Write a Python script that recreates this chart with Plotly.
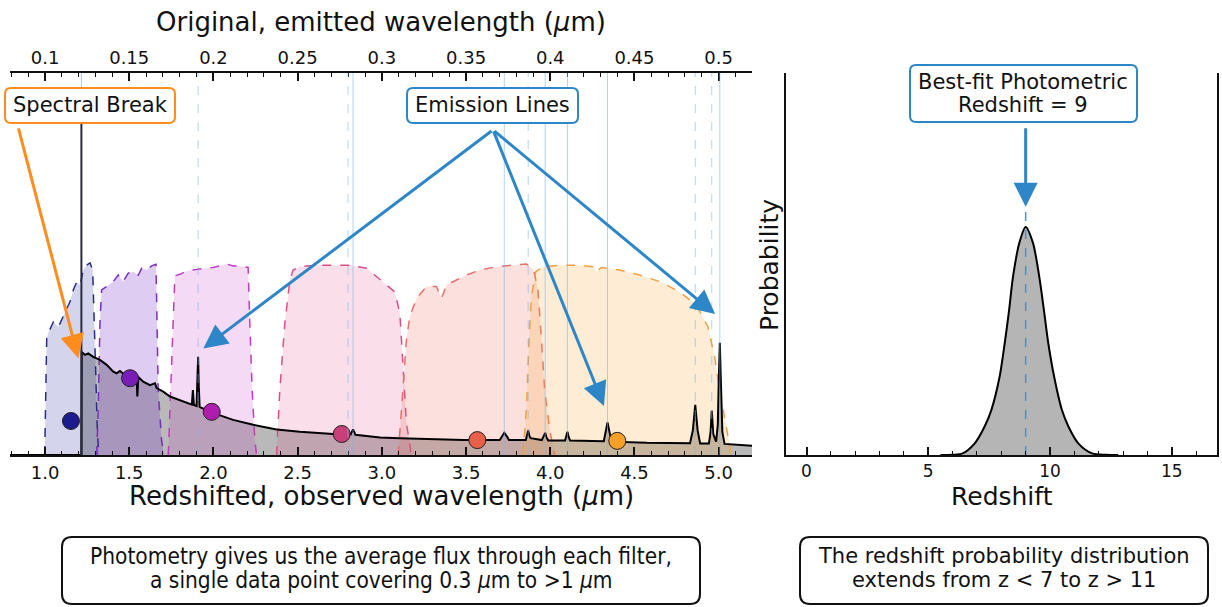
import plotly.graph_objects as go

W, H = 1222, 607
FONT = "DejaVu Sans"
FONT_C = "DejaVu Sans Condensed, DejaVu Sans"
Z_BEST = 9

# ---------------- data ----------------
# observed wavelength (um) and flux (arbitrary units, 0-100 scale)
spec_wave = [0.79, 1.216, 1.218, 1.237, 1.257, 1.286, 1.326, 1.366, 1.405, 1.425, 1.445, 1.475,
             1.544, 1.548, 1.554, 1.583, 1.623, 1.653, 1.663, 1.702, 1.742, 1.801, 1.860, 1.872,
             1.878, 1.884, 1.900, 1.905, 1.909, 1.913, 1.918, 1.979, 2.117, 2.236, 2.375, 2.513,
             2.711, 2.815, 2.829, 2.843, 2.989, 3.108, 3.286, 3.484, 3.700, 3.712, 3.727, 3.742,
             3.755, 3.855, 3.862, 3.869, 3.876, 3.884, 3.950, 3.962, 3.970, 3.978, 3.988, 4.088,
             4.096, 4.102, 4.110, 4.118, 4.318, 4.328, 4.340, 4.352, 4.362, 4.573, 4.830, 4.847,
             4.861, 4.875, 4.890, 4.942, 4.952, 4.959, 4.968, 4.985, 4.995, 5.001, 5.007, 5.014,
             5.022, 5.035, 5.198]
spec_flux = [0, 0, 27.0, 26.2, 26.6, 25.7, 24.9, 23.6, 21.8, 21.4, 22.0, 20.9,
             20.5, 15.3, 20.4, 19.2, 18.3, 18.8, 17.5, 16.6, 15.3, 14.4, 13.4, 13.2,
             17.0, 13.1, 12.8, 18.0, 25.7, 18.0, 12.6, 11.3, 9.2, 7.9, 6.7, 6.1,
             5.5, 5.4, 6.7, 5.3, 4.6, 4.4, 4.1, 3.9, 3.9, 4.9, 5.8, 4.9,
             3.9, 3.9, 5.6, 6.4, 5.0, 4.4, 3.9, 5.0, 5.8, 4.6, 3.8, 3.8,
             5.2, 6.1, 4.6, 3.8, 3.6, 6.4, 8.5, 6.0, 3.5, 3.2, 3.1, 6.5,
             13.1, 6.5, 3.0, 3.0, 6.0, 11.6, 5.5, 3.5, 8.0, 20.0, 29.4, 18.0,
             6.0, 2.9, 2.4]

filter_names = ["F115W", "F150W", "F200W", "F277W", "F356W", "F444W"]
f115w_wave = [0.998, 1.010, 1.019, 1.049, 1.079, 1.099, 1.129, 1.148, 1.168, 1.188, 1.208, 1.227,
              1.247, 1.267, 1.283, 1.291, 1.301, 1.310, 1.319]
f115w_thru = [0, 30.5, 31.9, 34.8, 33.5, 35.3, 38.0, 40.1, 43.2, 45.3, 44.5, 48.4,
              49.7, 50.3, 48.4, 38.7, 21.5, 7.3, 0]
f150w_wave = [1.307, 1.316, 1.326, 1.336, 1.366, 1.405, 1.435, 1.464, 1.494, 1.524, 1.554, 1.574,
              1.603, 1.633, 1.659, 1.663, 1.672, 1.692, 1.706]
f150w_thru = [0, 12.6, 34.5, 43.2, 44.1, 45.4, 47.1, 45.4, 47.6, 48.0, 47.1, 48.9,
              48.4, 49.5, 49.9, 38.8, 17.0, 3.9, 0]
f200w_wave = [1.732, 1.746, 1.758, 1.771, 1.801, 1.841, 1.920, 1.999, 2.078, 2.117, 2.157, 2.206,
              2.216, 2.230, 2.246, 2.256]
f200w_thru = [0, 17.0, 34.5, 46.9, 47.3, 48.2, 48.7, 49.1, 50.0, 49.5, 49.5, 49.1,
              34.5, 17.0, 3.9, 0]
f277w_wave = [2.375, 2.394, 2.424, 2.454, 2.473, 2.513, 2.612, 2.711, 2.810, 2.909, 2.968, 3.028,
              3.077, 3.107, 3.126, 3.146, 3.176]
f277w_thru = [0, 17.0, 34.5, 45.8, 48.4, 49.3, 49.7, 49.7, 49.7, 48.9, 46.7, 44.5,
              42.7, 37.1, 21.4, 8.3, 0]
f356w_wave = [3.097, 3.117, 3.146, 3.166, 3.206, 3.265, 3.324, 3.354, 3.384, 3.443, 3.502, 3.581,
              3.681, 3.779, 3.859, 3.902, 3.927, 3.948, 3.967, 3.997, 4.027]
f356w_thru = [0, 12.6, 30.1, 36.2, 41.0, 44.1, 44.1, 41.0, 44.5, 45.8, 47.1, 48.4,
              49.3, 49.7, 50.0, 48.4, 43.2, 30.1, 17.0, 6.5, 0]
f444w_wave = [3.838, 3.859, 3.874, 3.888, 3.914, 3.957, 4.076, 4.175, 4.254, 4.274, 4.304, 4.412,
              4.531, 4.650, 4.768, 4.867, 4.936, 4.976, 5.006, 5.045, 5.075]
f444w_thru = [0, 12.6, 30.1, 41.4, 48.0, 49.3, 49.7, 49.7, 49.3, 48.0, 49.1, 48.4,
              47.1, 45.4, 42.7, 39.3, 33.6, 25.7, 17.0, 7.4, 0]

phot_wave = [1.154, 1.505, 1.990, 2.762, 3.567, 4.398]
phot_flux = [8.9, 20.1, 11.3, 5.5, 3.9, 3.7]

lya_rest = 0.1216
line_rest = [0.1909, 0.2799, 0.2829, 0.3727, 0.3869, 0.3970, 0.4102, 0.4340, 0.4861, 0.4959, 0.5007]

pz_z = [5.5, 6.0, 6.41, 6.9, 7.31, 7.59, 7.93, 8.14, 8.32, 8.48, 8.74, 9.0, 9.3, 9.56, 9.75, 9.93,
        10.17, 10.49, 10.76, 11.17, 11.73, 12.3, 12.8]
pz_p = [0, 0.001, 0.007, 0.05, 0.124, 0.197, 0.343, 0.49, 0.635, 0.781, 0.93, 1.0, 0.93, 0.781,
        0.635, 0.49, 0.343, 0.197, 0.124, 0.05, 0.007, 0.001, 0]

top_ticks = [0.1, 0.15, 0.2, 0.25, 0.3, 0.35, 0.4, 0.45, 0.5]
bottom_ticks = [1.0, 1.5, 2.0, 2.5, 3.0, 3.5, 4.0, 4.5, 5.0]
z_ticks = [0, 5, 10, 15]

# ---------------- styles ----------------
filter_fill = ["rgba(40,40,160,0.2)", "rgba(120,40,200,0.24)", "rgba(200,50,200,0.18)",
               "rgba(230,70,140,0.18)", "rgba(240,100,90,0.2)", "rgba(250,170,60,0.22)"]
filter_line = ["#2b2b8a", "#7b2fbe", "#c03cc0", "#d94f8a", "#e8706a", "#f0a040"]
phot_color = ["#1c1c8c", "#7a1cb8", "#b01cb0", "#c8407a", "#e8604a", "#f7a028"]
line_dash = ["dash", "dash", "solid", "solid", "dash", "solid", "solid", "solid", "dash", "dash", "solid"]
BLUE = "#2d86c8"
ORANGE = "#ff8c1e"

filters_wave = [f115w_wave, f150w_wave, f200w_wave, f277w_wave, f356w_wave, f444w_wave]
filters_thru = [f115w_thru, f150w_thru, f200w_thru, f277w_thru, f356w_thru, f444w_thru]


def px(x):
    return x / W


def py(y):
    return 1 - y / H


def rounded_box(x0, y0, x1, y1, r):
    rx, ry = r / W, r / H
    X0, X1 = px(x0), px(x1)
    Y0, Y1 = py(y0), py(y1)  # Y0 top, Y1 bottom
    return (f"M{X0+rx},{Y0} L{X1-rx},{Y0} Q{X1},{Y0} {X1},{Y0-ry} "
            f"L{X1},{Y1+ry} Q{X1},{Y1} {X1-rx},{Y1} L{X0+rx},{Y1} "
            f"Q{X0},{Y1} {X0},{Y1+ry} L{X0},{Y0-ry} Q{X0},{Y0} {X0+rx},{Y0} Z")


fig = go.Figure()

# spectrum gray fill
fig.add_trace(go.Scatter(x=spec_wave, y=spec_flux, mode="lines", line=dict(width=0),
                         fill="tozeroy", fillcolor="rgba(128,128,128,0.55)",
                         xaxis="x", yaxis="y", hoverinfo="skip", showlegend=False))
# filters
for i in range(len(filter_names)):
    fig.add_trace(go.Scatter(x=filters_wave[i], y=filters_thru[i], mode="lines", fill="toself",
                             fillcolor=filter_fill[i],
                             line=dict(color=filter_line[i], width=1.5, dash="dash"),
                             name=filter_names[i], xaxis="x", yaxis="y", showlegend=False))
# spectrum line
fig.add_trace(go.Scatter(x=spec_wave, y=spec_flux, mode="lines", line=dict(color="black", width=2),
                         xaxis="x", yaxis="y", showlegend=False))
# photometry
fig.add_trace(go.Scatter(x=phot_wave, y=phot_flux, mode="markers",
                         marker=dict(size=17, color=phot_color, line=dict(color="#222", width=1)),
                         xaxis="x", yaxis="y", showlegend=False))
# invisible trace to activate the rest-frame top axis
fig.add_trace(go.Scatter(x=[top_ticks[0]], y=[0], mode="markers", marker=dict(size=1, opacity=0),
                         xaxis="x3", yaxis="y", hoverinfo="skip", showlegend=False))

# right panel: P(z)
fig.add_trace(go.Scatter(x=pz_z, y=pz_p, mode="lines", line=dict(color="black", width=2, shape="spline", smoothing=0.8),
                         fill="tozeroy", fillcolor="#b5b5b5", xaxis="x2", yaxis="y2", showlegend=False))
fig.add_trace(go.Scatter(x=[Z_BEST, Z_BEST], y=[0, 1.088], mode="lines",
                         line=dict(color="#4a8fd0", width=1.5, dash="dash"),
                         xaxis="x2", yaxis="y2", showlegend=False))

shapes = []
# emission-line markers (rest-frame top axis)
for lam, d in zip(line_rest, line_dash):
    shapes.append(dict(type="line", xref="x3", yref="y", x0=lam, x1=lam, y0=0, y1=100,
                       line=dict(color="rgba(130,180,230,0.6)", width=1, dash=d), layer="above"))
shapes.append(dict(type="line", xref="x3", yref="y", x0=lya_rest, x1=lya_rest, y0=87, y1=100,
                   line=dict(color="rgba(130,150,190,0.6)", width=1), layer="above"))
shapes.append(dict(type="line", xref="x3", yref="y", x0=lya_rest, x1=lya_rest, y0=0, y1=87,
                   line=dict(color="#2a2a40", width=2), layer="above"))

# boxes
boxes = [
    (5, 88, 175, 123, 6, ORANGE),
    (407, 88, 578, 123, 6, BLUE),
    (910, 65, 1137, 122, 6, BLUE),
    (62, 537, 700, 604, 10, "#111"),
    (800, 537, 1208, 604, 10, "#111"),
]
for x0, y0, x1, y1, r, c in boxes:
    shapes.append(dict(type="path", xref="paper", yref="paper", path=rounded_box(x0, y0, x1, y1, r),
                       line=dict(color=c, width=2), fillcolor="white", layer="above"))

annotations = []


def text(cx, cy, s, size, family=FONT):
    annotations.append(dict(xref="paper", yref="paper", x=px(cx), y=py(cy), text=s, showarrow=False,
                            xanchor="center", yanchor="middle", font=dict(family=family, size=size, color="#111")))


text(381, 22, "Original, emitted wavelength (<i>μ</i>m)", 26)
text(381, 496, "Redshifted, observed wavelength (<i>μ</i>m)", 26)
text(1002, 496, "Redshift", 25)
annotations.append(dict(xref="paper", yref="paper", x=px(769), y=py(265), text="Probability", showarrow=False,
                        textangle=-90, xanchor="center", yanchor="middle",
                        font=dict(family=FONT, size=25, color="#111")))
text(90, 105, "Spectral Break", 21)
text(492, 105, "Emission Lines", 21)
text(1023, 82, "Best-fit Photometric", 21)
text(1023, 105, "Redshift = 9", 21)
text(381, 556, "Photometry gives us the average flux through each filter,", 22.5, FONT_C)
text(381, 580, "a single data point covering 0.3 <i>μ</i>m to >1 <i>μ</i>m", 22.5, FONT_C)
text(1004, 556, "The redshift probability distribution", 21)
text(1004, 580, "extends from z < 7 to z > 11", 21)

# arrows
def arrow(xh, yh, xt, yt, color, xr="x", yr="y"):
    annotations.append(dict(x=xh, y=yh, ax=xt, ay=yt, xref=xr, yref=yr, axref=xr, ayref=yr,
                            text="", showarrow=True, arrowhead=2, arrowsize=1.6, arrowwidth=3,
                            arrowcolor=color))


arrow(1.198, 25.3, 0.840, 85.9, ORANGE)
arrow(1.940, 27.9, 3.660, 85.1, BLUE)
arrow(4.319, 12.8, 3.660, 85.1, BLUE)
arrow(4.979, 36.9, 3.660, 85.1, BLUE)
arrow(Z_BEST, 1.088, Z_BEST, 1.439, BLUE, "x2", "y2")

YDOM = [py(455), py(73)]
tickfont = dict(family=FONT, size=18, color="#111")

fig.update_layout(
    width=W, height=H, margin=dict(l=0, r=0, t=0, b=0),
    paper_bgcolor="white", plot_bgcolor="rgba(0,0,0,0)",
    showlegend=False,
    xaxis=dict(domain=[px(10), px(752)], range=[0.792, 5.198], anchor="y",
               tickmode="array", tickvals=bottom_ticks, ticktext=[f"{v:.1f}" for v in bottom_ticks],
               ticks="inside", ticklen=8, tickwidth=1.5, tickcolor="#111",
               minor=dict(ticks="inside", dtick=0.1, tick0=1.0, ticklen=4, tickwidth=1.2, tickcolor="#111", showgrid=False),
               showline=True, linecolor="#111", linewidth=2, showgrid=False, zeroline=False,
               tickfont=tickfont, ticklabelstandoff=0),
    xaxis3=dict(overlaying="x", side="top", anchor="y", range=[0.0792, 0.5198],
                tickmode="array", tickvals=top_ticks, ticktext=[f"{v:g}" for v in top_ticks],
                ticks="inside", ticklen=8, tickwidth=1.5, tickcolor="#111",
                minor=dict(ticks="inside", dtick=0.01, tick0=0.1, ticklen=4, tickwidth=1.2, tickcolor="#111", showgrid=False),
                showline=True, linecolor="#111", linewidth=2, showgrid=False, zeroline=False,
                tickfont=tickfont, ticklabelstandoff=0),
    yaxis=dict(domain=YDOM, range=[0, 100], visible=False, fixedrange=True),
    xaxis2=dict(domain=[px(786), px(1217)], range=[-0.842, 16.858], anchor="y2",
                tickmode="array", tickvals=z_ticks, ticktext=[str(v) for v in z_ticks],
                ticks="inside", ticklen=8, tickwidth=1.5, tickcolor="#111",
                minor=dict(ticks="inside", dtick=1, tick0=0, ticklen=4, tickwidth=1.2, tickcolor="#111", showgrid=False),
                showline=True, linecolor="#111", linewidth=2, showgrid=False, zeroline=False,
                tickfont=dict(family=FONT, size=17, color="#111"), ticklabelstandoff=0),
    yaxis2=dict(domain=YDOM, range=[0, 1.675], anchor="x2", showline=True, mirror=True,
                linecolor="#111", linewidth=2, showticklabels=False, ticks="", showgrid=False, zeroline=False),
    shapes=shapes,
    annotations=annotations,
)

fig.write_html("out.html")
